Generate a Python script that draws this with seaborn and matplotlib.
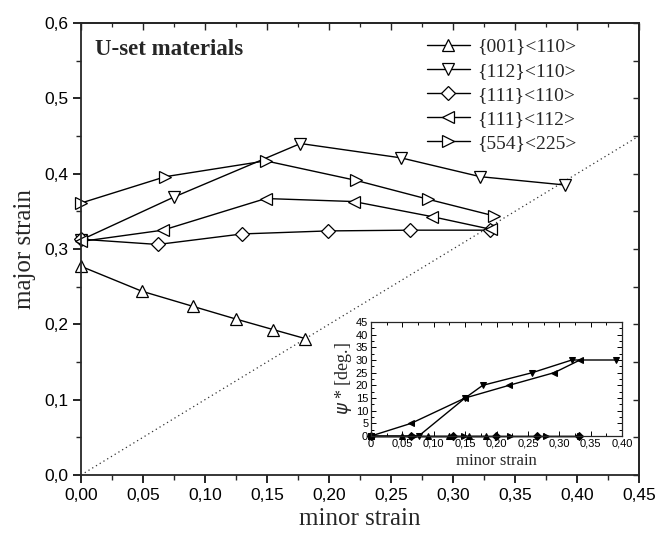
import numpy as np
import pandas as pd
import matplotlib
matplotlib.use("Agg")
import matplotlib.pyplot as plt
import seaborn as sns
from matplotlib.ticker import FuncFormatter, MultipleLocator

# ---------------- data ----------------
labels = ["{001}<110>", "{112}<110>", "{111}<110>", "{111}<112>", "{554}<225>"]
markers = ["^", "v", "D", "<", ">"]

minor_001 = [0.000, 0.049, 0.090, 0.125, 0.155, 0.181]
major_001 = [0.277, 0.244, 0.224, 0.207, 0.193, 0.181]

minor_112 = [0.000, 0.075, 0.177, 0.258, 0.322, 0.390]
major_112 = [0.312, 0.369, 0.440, 0.421, 0.396, 0.385]

minor_111_110 = [0.000, 0.062, 0.130, 0.199, 0.265, 0.330]
major_111_110 = [0.313, 0.306, 0.320, 0.324, 0.325, 0.325]

minor_111_112 = [0.000, 0.066, 0.149, 0.220, 0.283, 0.331]
major_111_112 = [0.310, 0.325, 0.367, 0.363, 0.343, 0.326]

minor_554 = [0.000, 0.068, 0.149, 0.222, 0.280, 0.333]
major_554 = [0.361, 0.396, 0.417, 0.391, 0.366, 0.344]

# inset: psi* [deg.] vs minor strain
psi_minor_001 = [0.000, 0.049, 0.091, 0.125, 0.156, 0.184]
psi_001 = [0, 0, 0, 0, 0, 0]
psi_minor_112 = [0.000, 0.076, 0.150, 0.178, 0.257, 0.320, 0.390]
psi_112 = [0, 0, 15, 20, 25, 30, 30]
psi_minor_111_110 = [0.000, 0.064, 0.130, 0.199, 0.265, 0.331]
psi_111_110 = [0, 0, 0, 0, 0, 0]
psi_minor_111_112 = [0.000, 0.064, 0.150, 0.220, 0.292, 0.333]
psi_111_112 = [0, 5, 15, 20, 25, 30]
psi_minor_554 = [0.000, 0.068, 0.149, 0.222, 0.279, 0.333]
psi_554 = [0, 0, 0, 0, 0, 0]

main_series = [(minor_001, major_001), (minor_112, major_112),
               (minor_111_110, major_111_110), (minor_111_112, major_111_112),
               (minor_554, major_554)]
inset_series = [(psi_minor_001, psi_001), (psi_minor_112, psi_112),
                (psi_minor_111_110, psi_111_110), (psi_minor_111_112, psi_111_112),
                (psi_minor_554, psi_554)]

diag_x = [0.0, 0.45]
diag_y = [0.0, 0.45]

# ---------------- style ----------------
sns.set_theme(style="ticks")
plt.rcParams["font.family"] = ["Liberation Sans", "DejaVu Sans"]
plt.rcParams["axes.linewidth"] = 1.3
SERIF = ["Liberation Serif", "DejaVu Serif"]

W, H = 656, 541
fig = plt.figure(figsize=(6.56, 5.41), dpi=100)
L, R, T, B = 81, 639, 23, 475
ax = fig.add_axes([L / W, 1 - B / H, (R - L) / W, (B - T) / H])

comma = lambda fmt: FuncFormatter(lambda v, p: (fmt % v).replace(".", ","))

# diagonal dotted line
sns.lineplot(x=diag_x, y=diag_y, ax=ax, color="#333333", lw=0.9,
             linestyle=(0, (1, 2.5)), sort=False)

msz = {"^": 9, "v": 9, "D": 7, "<": 9, ">": 9}
for (xs, ys), lab, m in zip(main_series, labels, markers):
    df = pd.DataFrame({"x": xs, "y": ys})
    sns.lineplot(data=df, x="x", y="y", ax=ax, color="black", lw=1.0,
                 marker=m, markersize=msz[m], markerfacecolor="white",
                 markeredgecolor="black", markeredgewidth=0.9,
                 label=lab, sort=False, estimator=None, clip_on=False)

ax.set_xlim(0, 0.45)
ax.set_ylim(0, 0.6)
ax.xaxis.set_major_locator(MultipleLocator(0.05))
ax.xaxis.set_minor_locator(MultipleLocator(0.025))
ax.yaxis.set_major_locator(MultipleLocator(0.1))
ax.yaxis.set_minor_locator(MultipleLocator(0.05))
ax.xaxis.set_major_formatter(comma("%.2f"))
ax.yaxis.set_major_formatter(comma("%.1f"))
ax.tick_params(which="major", direction="out", length=6, width=1.2,
               labelsize=12.5, colors="black", pad=3)
ax.tick_params(which="minor", direction="out", length=3.5, width=1.0)

# inward ticks on top/right
top = ax.secondary_xaxis("top")
top.xaxis.set_major_locator(MultipleLocator(0.05))
top.xaxis.set_minor_locator(MultipleLocator(0.025))
top.tick_params(which="major", direction="in", length=5, width=1.0, labeltop=False)
top.tick_params(which="minor", direction="in", length=3, width=0.9)
right = ax.secondary_yaxis("right")
right.yaxis.set_major_locator(MultipleLocator(0.05))
right.tick_params(which="major", direction="in", length=4.5, width=1.0, labelright=False)

ax.set_xlabel("minor strain", fontsize=18, family=SERIF, labelpad=4)
ax.set_ylabel("major strain", fontsize=18, family=SERIF, labelpad=6)

ax.text(14 / (R - L), (B - 55) / (B - T), "U-set materials", transform=ax.transAxes,
        fontsize=16.5, fontweight="bold", family=SERIF, va="baseline", ha="left")

leg = ax.legend(loc="upper left", bbox_to_anchor=((427 - L) / (R - L), (B - 38) / (B - T)),
                frameon=False, prop={"family": SERIF, "size": 14}, handlelength=2.2,
                handletextpad=0.4, labelspacing=0.33, borderpad=0,
                borderaxespad=0)

# ---------------- inset ----------------
axi = fig.add_axes([371 / W, 1 - 436 / H, (622 - 371) / W, (436 - 322) / H])
for (xs, ys), m in zip(inset_series, markers):
    df = pd.DataFrame({"x": xs, "y": ys})
    sns.lineplot(data=df, x="x", y="y", ax=axi, color="black", lw=1.0,
                 marker=m, markersize=5 if m != "D" else 4.2,
                 markerfacecolor="black", markeredgecolor="black",
                 sort=False, estimator=None, legend=False, clip_on=False)
axi.set_xlim(0, 0.40)
axi.set_ylim(0, 45)
axi.xaxis.set_major_locator(MultipleLocator(0.05))
axi.xaxis.set_minor_locator(MultipleLocator(0.025))
axi.yaxis.set_major_locator(MultipleLocator(5))
axi.yaxis.set_minor_locator(MultipleLocator(2.5))
axi.xaxis.set_major_formatter(FuncFormatter(
    lambda v, p: "0" if abs(v) < 1e-9 else ("%.2f" % v).replace(".", ",")))
axi.tick_params(which="both", direction="in", top=True, right=True,
                labelsize=8, width=0.7, pad=2, colors="black")
axi.tick_params(which="major", length=3.5)
axi.tick_params(which="minor", length=2)
for s in axi.spines.values():
    s.set_linewidth(0.9)
axi.set_xlabel("minor strain", fontsize=12, family=SERIF, labelpad=3)
axi.set_ylabel(r"$\psi$ * [deg.]", fontsize=13, family=SERIF, labelpad=1)

fig.savefig("out.png", dpi=100)
